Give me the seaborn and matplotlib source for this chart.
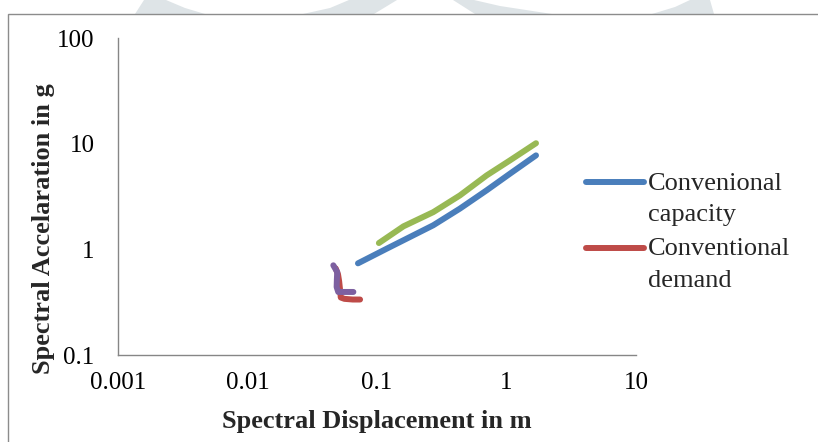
import numpy as np
import pandas as pd
import matplotlib
matplotlib.use("Agg")
import matplotlib.pyplot as plt
import seaborn as sns
from matplotlib.patches import Rectangle, Polygon

# ---- data ----
cap_sd = [0.0713, 0.119, 0.272, 0.437, 0.703, 1.064, 1.69]
cap_sa = [0.737, 1.015, 1.69, 2.43, 3.62, 5.2, 7.75]

dem_sd = [0.048, 0.050, 0.051, 0.052, 0.0525, 0.056, 0.065, 0.074]
dem_sa = [0.66, 0.58, 0.50, 0.40, 0.35, 0.34, 0.335, 0.335]

cap2_sd = [0.1034, 0.16, 0.272, 0.437, 0.703, 1.064, 1.69]
cap2_sa = [1.147, 1.65, 2.25, 3.24, 5.01, 6.95, 10.1]

dem2_sd = [0.046, 0.0493, 0.0490, 0.0488, 0.0502, 0.056, 0.0657]
dem2_sa = [0.706, 0.61, 0.52, 0.44, 0.395, 0.395, 0.395]

legend_labels = ["Convenional\ncapacity", "Conventional\ndemand"]
x_ticks = [0.001, 0.01, 0.1, 1, 10]
x_tick_labels = ["0.001", "0.01", "0.1", "1", "10"]
y_ticks = [0.1, 1, 10, 100]
y_tick_labels = ["0.1", "1", "10", "100"]

sns.set_theme(style="white")
plt.rcParams['font.family'] = ['Liberation Serif', 'DejaVu Serif']

W, H = 818, 442
fig = plt.figure(figsize=(W/100, H/100), dpi=100)
ax = fig.add_axes([118/W, 1-355/H, (636-118)/W, (355-38)/H])

lw = 4.3
series = [
    (cap_sd, cap_sa, "#4A7EBB"),
    (dem_sd, dem_sa, "#BE4B48"),
    (cap2_sd, cap2_sa, "#98B954"),
    (dem2_sd, dem2_sa, "#7D60A0"),
]
for sd, sa, col in series:
    df = pd.DataFrame({"sd": sd, "sa": sa})
    sns.lineplot(data=df, x="sd", y="sa", sort=False, estimator=None,
                 color=col, lw=lw, ax=ax, solid_capstyle="round",
                 solid_joinstyle="round")

ax.set_xscale("log")
ax.set_yscale("log")
ax.set_xlim(0.001, 10)
ax.set_ylim(0.1, 100)
ax.set_xticks(x_ticks)
ax.set_xticklabels(x_tick_labels)
ax.set_yticks(y_ticks)
ax.set_yticklabels(y_tick_labels)
ax.minorticks_off()
ax.tick_params(axis="x", length=0, pad=12.5, labelsize=18, colors="black")
ax.tick_params(axis="y", length=0, pad=17, labelsize=18, colors="black")

for s in ["top", "right"]:
    ax.spines[s].set_visible(False)
for s in ["left", "bottom"]:
    ax.spines[s].set_color("#868686")
    ax.spines[s].set_linewidth(1.0)

ax.set_xlabel("Spectral Displacement in m", fontsize=19, fontweight="bold")
ax.set_ylabel("Spectral Accelaration in g", fontsize=19, fontweight="bold")
ax.xaxis.set_label_coords(0.5, -0.175)
ax.yaxis.set_label_coords(-0.122, 0.40)

handles = [ax.get_lines()[0], ax.get_lines()[1]]
leg = ax.legend(handles, legend_labels, loc="upper left",
                bbox_to_anchor=(586/W, 1-173/H), bbox_transform=fig.transFigure,
                frameon=False, fontsize=19, handlelength=2.2, handletextpad=0.15,
                borderpad=0, borderaxespad=0, labelspacing=0.46)
for t in leg.get_texts():
    t.set_linespacing(1.55)
for line in leg.get_lines():
    line.set_linewidth(lw)
    line.set_solid_capstyle("round")
    line.set_ydata(np.asarray(line.get_ydata()) + 11.9)

# outer chart frame
fig.patches.append(Rectangle((8/W, -0.1), 1.2, 1-14/H+0.1,
                             transform=fig.transFigure, fill=False,
                             edgecolor="#8c8c8c", lw=1.0, zorder=0))

# faint watermark pieces above the frame
wm = [
    [(135, 14), (144, 0), (166, 0), (185, 8), (205, 14)],
    [(303, 14), (330, 8), (349, 0), (397, 0), (374, 14)],
    [(453, 0), (475, 14), (552, 14), (500, 6), (474, 0)],
    [(652, 14), (675, 7), (690, 0), (710, 0), (714, 14)],
]
for poly in wm:
    pts = [(x/W, 1-y/H) for x, y in poly]
    fig.patches.append(Polygon(pts, closed=True, transform=fig.transFigure,
                               facecolor="#dee4e7", edgecolor="none", zorder=-1))

fig.savefig("out.png", dpi=100)
